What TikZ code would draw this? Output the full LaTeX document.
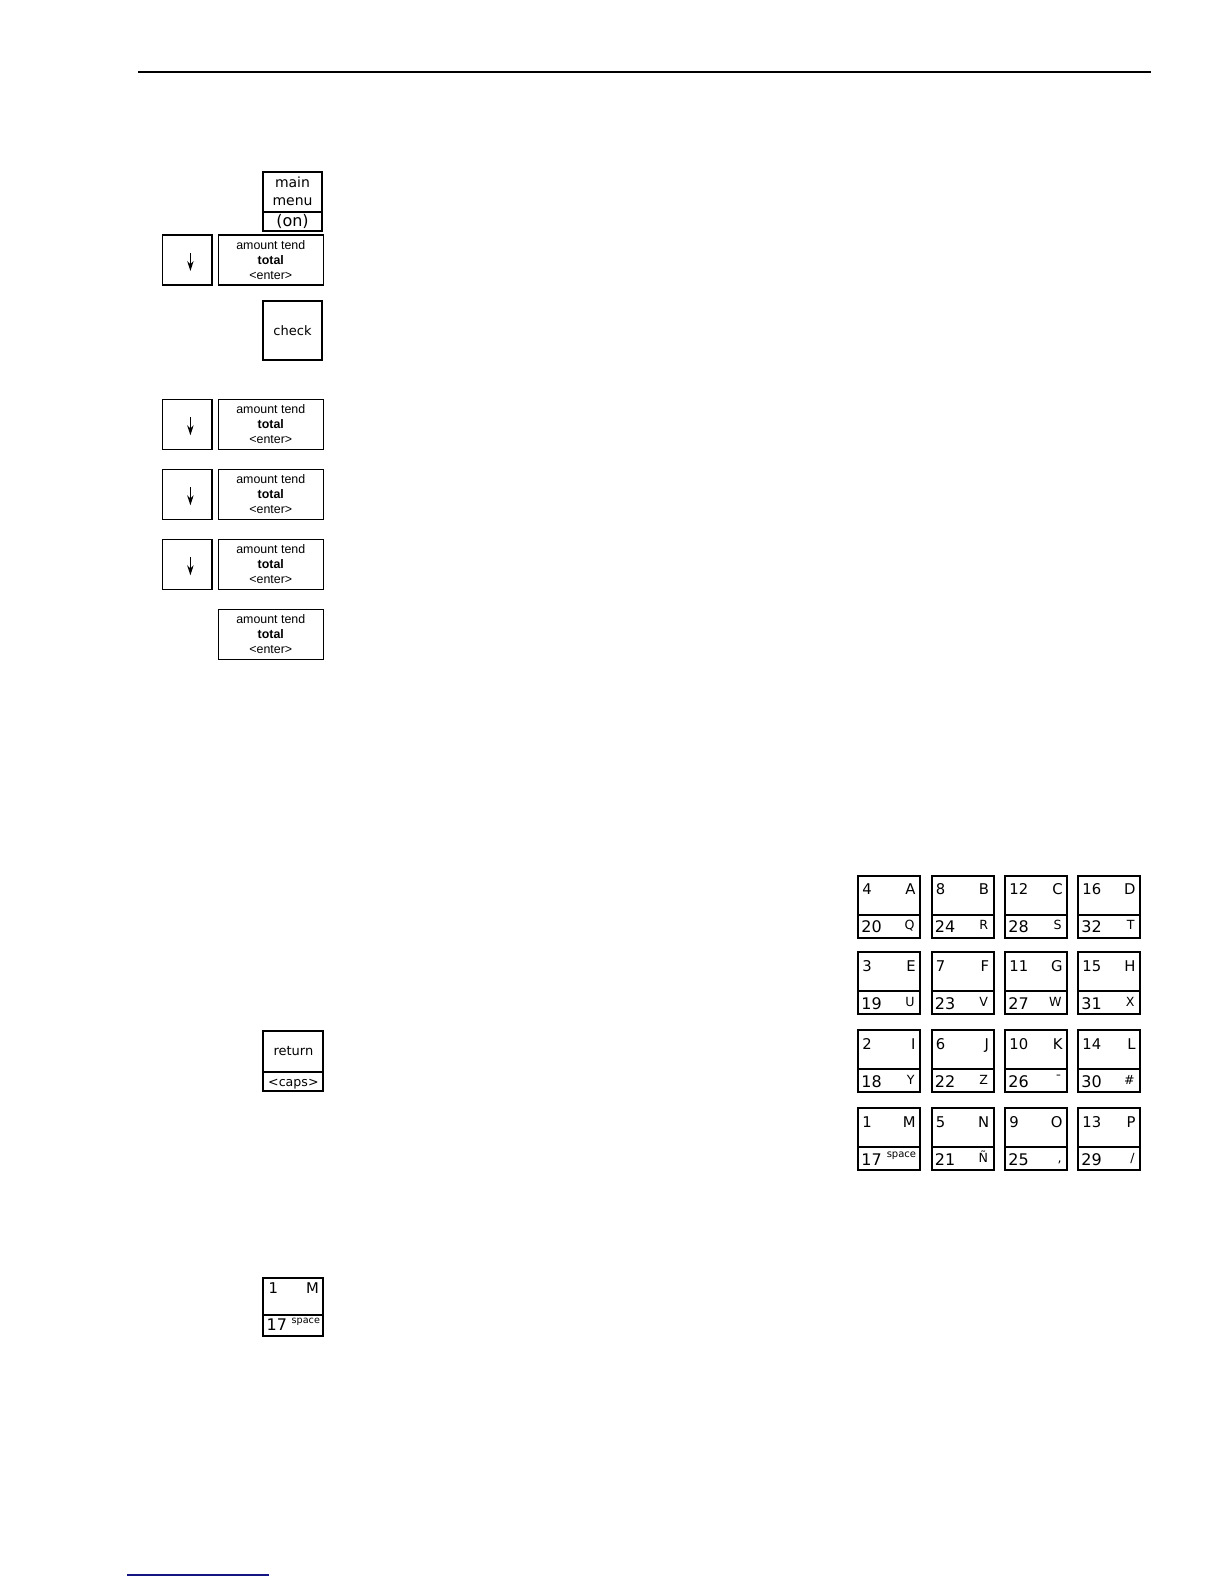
\documentclass[tikz,border=0pt]{standalone}
\usepackage{fontspec}
\setmainfont{DejaVu Sans}
\newfontfamily\tendfont{Liberation Sans}
\usetikzlibrary{arrows.meta}
\definecolor{rulenavy}{RGB}{20,20,130}

\begin{document}
\begin{tikzpicture}[
    x=0.5pt, y=-0.5pt,
    keybox/.style={rectangle, draw=black, line width=1pt, outer sep=0pt, inner sep=0pt},
    tendbox/.style={rectangle, draw=black, line width=0.6pt, outer sep=0pt, inner sep=0pt,
                 minimum width=52.5pt, minimum height=25pt, align=center,
                 font=\tendfont\fontsize{6.2}{7.5}\selectfont},
    arrbox/.style={tendbox, minimum width=24.6pt},
    padkey/.style={keybox, minimum width=31pt, minimum height=31pt},
    keytxt/.style={inner sep=0pt, font=\fontsize{7.4}{8}\selectfont},
    keynum/.style={inner sep=0pt, font=\fontsize{8}{8}\selectfont},
    keylet/.style={inner sep=0pt, font=\fontsize{6.3}{7}\selectfont},
    divline/.style={line width=1pt},
    downarr/.style={-{Stealth[length=5pt,width=3.2pt]}, line width=0.6pt}
]
\useasboundingbox (0,0) rectangle (1224,1584);
\draw[line width=0.8pt] (138,72) -- (1151,72);

% main menu key
\node[keybox, minimum width=29.8pt, minimum height=29.2pt] (mainkey) at (292.5,201.5) {};
\draw[divline] ([shift={(0,39.7)}]mainkey.north west) -- ([shift={(0,39.7)}]mainkey.north east);
\node[keytxt, anchor=base, font=\fontsize{7}{8}\selectfont] (mainlbl) at (292.5,187) {main};
\node[keytxt, anchor=base, font=\fontsize{7}{8}\selectfont] (menulbl) at (292.5,205.5) {menu};
\node[keytxt, anchor=base, font=\fontsize{8}{9}\selectfont] (onlbl) at (292.5,226) {(on)};

% arrow + amount tend rows
\node[arrbox] (dn1) at (187.4,260) {};
\node[tendbox] (tend1) at (270.8,260) {amount tend\\\textbf{total}\\<enter>};
\node[keybox, minimum width=29.8pt, minimum height=29.8pt,
      font=\fontsize{6.5}{8}\selectfont] (checkkey) at (292.5,330.5) {check};
\node[arrbox] (dn2) at (187.4,424.3) {};
\node[tendbox] (tend2) at (270.8,424.3) {amount tend\\\textbf{total}\\<enter>};
\node[arrbox] (dn3) at (187.4,494.3) {};
\node[tendbox] (tend3) at (270.8,494.3) {amount tend\\\textbf{total}\\<enter>};
\node[arrbox] (dn4) at (187.4,564.3) {};
\node[tendbox] (tend4) at (270.8,564.3) {amount tend\\\textbf{total}\\<enter>};
\node[tendbox] (tend5) at (270.8,634.3) {amount tend\\\textbf{total}\\<enter>};
\foreach \i in {1,...,4}
  \draw[downarr] ([shift={(3,-7)}]dn\i.center) -- ([shift={(3,11)}]dn\i.center);

% keypad
\foreach \cx/\cy/\ta/\tb/\ba/\bb [count=\i] in {
    889/906.7/4/A/20/Q, 962.5/906.7/8/B/24/R, 1036/906.7/12/C/28/S, 1109/906.7/16/D/32/T,
    889/983.3/3/E/19/U, 962.5/983.3/7/F/23/V, 1036/983.3/11/G/27/W, 1109/983.3/15/H/31/X,
    889/1061/2/I/18/Y, 962.5/1061/6/J/22/Z, 1036/1061/10/K/26/¯, 1109/1061/14/L/30/\#,
    889/1139/1/M/17/{}, 962.5/1139/5/N/21/Ñ, 1036/1139/9/O/25/{,}, 1109/1139/13/P/29/{/}} {
  \node[padkey] (pk\i) at (\cx,\cy) {};
  \draw[divline] ([shift={(0,39)}]pk\i.north west) -- ([shift={(0,39)}]pk\i.north east);
  \node[keytxt, anchor=base west] (pk\i ta) at ([shift={(4,19)}]pk\i.north west) {\ta};
  \node[keytxt, anchor=base east] (pk\i tb) at ([shift={(-4,19)}]pk\i.north east) {\tb};
  \node[keynum, anchor=base west] (pk\i ba) at ([shift={(3,-5)}]pk\i.south west) {\ba};
  \node[keylet, anchor=base east] (pk\i bb) at ([shift={(-5,-8)}]pk\i.south east) {\bb};
}
\node[inner sep=0pt, anchor=base east, font=\fontsize{5}{6}\selectfont] (pkspace)
  at ([shift={(-3.5,-12.5)}]pk13.south east) {space};

% return key
\node[keybox, minimum width=30pt, minimum height=30pt] (retkey) at (293.4,1061) {};
\draw[divline] ([shift={(0,40.5)}]retkey.north west) -- ([shift={(0,40.5)}]retkey.north east);
\node[keytxt, anchor=base, font=\fontsize{6.5}{8}\selectfont] (retlbl) at (293.4,1055) {return};
\node[keytxt, anchor=base, font=\fontsize{6.3}{8}\selectfont] (capslbl) at (293.4,1086) {<caps>};

% 1 M / 17 space key
\node[keybox, minimum width=30pt, minimum height=29.2pt] (spkey) at (293.3,1307) {};
\draw[divline] ([shift={(0,37)}]spkey.north west) -- ([shift={(0,37)}]spkey.north east);
\node[keytxt, anchor=base west] (spka) at ([shift={(5,16)}]spkey.north west) {1};
\node[keytxt, anchor=base east] (spkb) at ([shift={(-4,16)}]spkey.north east) {M};
\node[keynum, anchor=base west] (spkc) at ([shift={(3,-6)}]spkey.south west) {17};
\node[inner sep=0pt, anchor=base east, font=\fontsize{4.8}{5}\selectfont] (spkd) at ([shift={(-3,-12.5)}]spkey.south east) {space};

\draw[rulenavy, line width=0.6pt] (127,1575) -- (269,1575);
\end{tikzpicture}
\end{document}
